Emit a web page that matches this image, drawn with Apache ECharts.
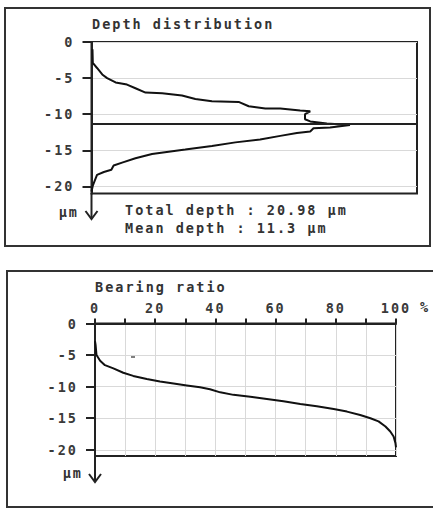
<!DOCTYPE html>
<html>
<head>
<meta charset="utf-8">
<script src="https://cdn.jsdelivr.net/npm/echarts@6/dist/echarts.min.js"></script>
<style>
  html, body { margin: 0; padding: 0; background: #fff; }
  #chart { width: 433px; height: 508px; }
  /* the original print uses a wide, letter-spaced mono font */
  #chart text { letter-spacing: 2px; }
</style>
</head>
<body>
<div id="chart"></div>
<script>
// 数据
const depthTicks = [0, -5, -10, -15, -20]
const ratioTicks = [0, 20, 40, 60, 80, 100]
const totalDepth = 20.98
const meanDepth = 11.3

// Depth distribution : frequency (% of width) / depth (µm)
const distFreq = [0.3, 0.4, 1.7, 3.3, 4.8, 7.4, 10.9, 13.5, 16.6, 21.7, 27.8, 31.9, 37, 45.2, 48.3, 53.4, 58, 64.1, 67.2,
  65.6, 65.6, 67.2, 72.3, 79.4, 73.3, 68.2, 67.2, 63.1, 58, 51.8, 44.2, 37, 28.8, 23.7, 18.6, 13.5, 9.4, 6.8, 6.1,
  3.8, 1.7, 1.0, 0.4, 0]
const distDepth = [-1.0, -2.9, -3.6, -4.5, -5.0, -5.6, -5.9, -6.4, -7.0, -7.1, -7.4, -7.9, -8.2, -8.3, -8.9, -9.2, -9.2, -9.5, -9.6,
  -10.0, -10.7, -11.0, -11.3, -11.5, -11.85, -11.95, -12.4, -12.6, -13.0, -13.5, -13.9, -14.4, -14.9, -15.2, -15.5, -16.1, -16.7, -17.1, -17.7,
  -18.0, -18.4, -19.2, -19.9, -20.7]

// Bearing ratio : % / depth (µm)
const ratioPct = [0, 0.2, 0.5, 1.7, 3.3, 6.1, 9.4, 12.7, 17.2, 21.6, 26.1, 30.5, 34.9, 38.2, 41.6, 46, 51.6, 57.1, 62.6,
  68.2, 73.7, 79.3, 83.7, 88.1, 91.5, 94.2, 96.5, 98.1, 99.2, 99.8, 100]
const ratioDepth = [-2.8, -3.4, -5.0, -5.9, -6.6, -7.1, -7.8, -8.3, -8.8, -9.2, -9.5, -9.8, -10.1, -10.4, -10.9, -11.3, -11.6, -11.95, -12.3,
  -12.75, -13.1, -13.55, -13.95, -14.5, -15.0, -15.5, -16.3, -17.1, -17.9, -18.9, -19.6]

const ink = '#222'
const font = 'DejaVu Sans Mono'
const fontSize = 13.5

function depthAxis (gridIndex, margin) {
  return {
    gridIndex: gridIndex,
    type: 'value',
    min: -totalDepth,
    max: 0,
    splitNumber: 4,
    axisLine: { show: true, lineStyle: { color: ink, width: 2 } },
    axisTick: { show: true, length: 9, customValues: depthTicks, lineStyle: { color: ink, width: 2 } },
    axisLabel: { customValues: depthTicks, margin: margin, color: '#3a3a3a', fontFamily: font, fontSize: fontSize, fontWeight: 'bold' },
    splitLine: { show: true, lineStyle: { color: '#d9d9d9', width: 1 } }
  }
}

function txt (x, y, text, align) {
  return {
    type: 'text', x: x, y: y, silent: true,
    style: { text: text, fill: '#333', font: 'bold ' + fontSize + 'px "' + font + '"', align: align || 'left', verticalAlign: 'middle' }
  }
}

let myChart = echarts.init(document.getElementById('chart'), null, { renderer: 'svg' })
let option = {
  animation: false,
  backgroundColor: '#fff',
  grid: [
    { left: 91.5, top: 42, width: 325.5, height: 151.5, show: true, borderColor: ink, borderWidth: 2, outerBoundsMode: 'none' },
    { left: 95, top: 323.5, width: 301, height: 132.5, show: true, borderColor: ink, borderWidth: 2, outerBoundsMode: 'none' }
  ],
  xAxis: [
    { gridIndex: 0, type: 'value', min: 0, max: 100, show: false },
    {
      gridIndex: 1,
      type: 'value',
      position: 'top',
      min: 0,
      max: 100,
      interval: 10,
      axisLine: { show: true, lineStyle: { color: ink, width: 2 } },
      axisTick: { show: true, length: 5, lineStyle: { color: ink, width: 2 } },
      axisLabel: { customValues: ratioTicks, margin: 9, color: '#3a3a3a', fontFamily: font, fontSize: fontSize, fontWeight: 'bold' },
      splitLine: { show: true, lineStyle: { color: '#d9d9d9', width: 1 } }
    }
  ],
  yAxis: [depthAxis(0, 17), depthAxis(1, 17)],
  series: [
    {
      name: 'Depth distribution',
      type: 'line',
      xAxisIndex: 0,
      yAxisIndex: 0,
      showSymbol: false,
      lineStyle: { color: '#111', width: 2 },
      data: distFreq.map((v, i) => [v, distDepth[i]]),
      markLine: {
        silent: true,
        symbol: 'none',
        label: { show: false },
        lineStyle: { color: ink, width: 2, type: 'solid' },
        data: [{ yAxis: -meanDepth }]
      }
    },
    {
      name: 'Bearing ratio',
      type: 'line',
      xAxisIndex: 1,
      yAxisIndex: 1,
      showSymbol: false,
      lineStyle: { color: '#111', width: 2 },
      data: ratioPct.map((v, i) => [v, ratioDepth[i]])
    }
  ],
  graphic: [
    // 外框
    { type: 'rect', silent: true, shape: { x: 5, y: 8, width: 425, height: 238 }, style: { fill: 'none', stroke: '#333', lineWidth: 2 } },
    { type: 'rect', silent: true, shape: { x: 7, y: 271, width: 440, height: 236 }, style: { fill: 'none', stroke: '#333', lineWidth: 2 } },
    // 标题和说明
    txt(92, 24, 'Depth distribution'),
    txt(125, 210, 'Total depth : ' + totalDepth.toFixed(2) + ' µm'),
    txt(125, 228, 'Mean depth : ' + meanDepth + ' µm'),
    txt(95, 287, 'Bearing ratio'),
    txt(420, 307, '%'),
    txt(79, 212, 'µm', 'right'),
    txt(83, 473, 'µm', 'right'),
    // 深度轴箭头
    { type: 'line', silent: true, shape: { x1: 91.5, y1: 193, x2: 91.5, y2: 219 }, style: { stroke: ink, lineWidth: 2 } },
    { type: 'polyline', silent: true, shape: { points: [[85.5, 211], [91.5, 219], [97.5, 211]] }, style: { stroke: ink, lineWidth: 2, fill: 'none' } },
    { type: 'line', silent: true, shape: { x1: 95, y1: 456, x2: 95, y2: 482 }, style: { stroke: ink, lineWidth: 2 } },
    { type: 'polyline', silent: true, shape: { points: [[89, 474], [95, 482], [101, 474]] }, style: { stroke: ink, lineWidth: 2, fill: 'none' } },
    // stray mark on the print
    { type: 'line', silent: true, shape: { x1: 131, y1: 357, x2: 135, y2: 357 }, style: { stroke: '#555', lineWidth: 1.5 } }
  ]
}

myChart.setOption(option)
</script>
</body>
</html>
